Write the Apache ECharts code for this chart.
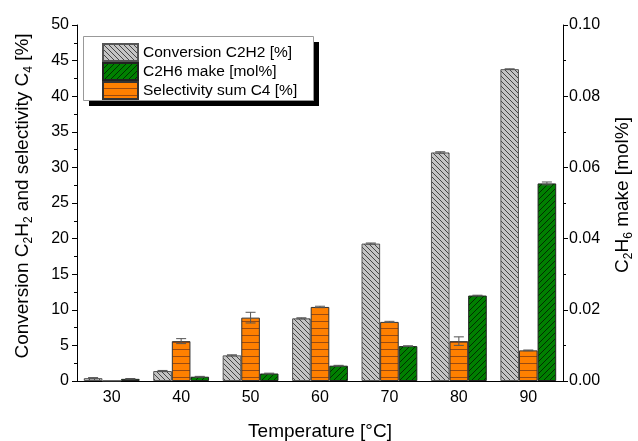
<!DOCTYPE html>
<html>
<head>
<meta charset="utf-8">
<script src="https://cdn.jsdelivr.net/npm/echarts@6/dist/echarts.min.js"></script>
<style>
  html, body { margin: 0; padding: 0; background: #fff; }
  #main { width: 638px; height: 441px; }
</style>
</head>
<body>
<div id="main"></div>
<script>
// data
var temps = ['30', '40', '50', '60', '70', '80', '90'];
var conversion = [0.4, 1.4, 3.6, 8.8, 19.3, 32.1, 43.8];
var conversionErr = [0.08, 0.08, 0.08, 0.08, 0.08, 0.1, 0.05];
var selectivity = [0, 5.6, 8.9, 10.4, 8.3, 5.6, 4.3];
var selectivityErr = [0, 0.35, 0.75, 0.1, 0.08, 0.6, 0.05];
var c2h6 = [0.0006, 0.0012, 0.0021, 0.0043, 0.0098, 0.024, 0.0555];
var c2h6Err = [0.0001, 0.0001, 0.0001, 0.0001, 0.0001, 0.0001, 0.0004];

var FONT = 'Liberation Sans, Arial, sans-serif';

// hatch patterns
function hatch(fill, line, size, kind) {
  var c = document.createElement('canvas');
  c.width = size; c.height = size;
  var ctx = c.getContext('2d');
  ctx.fillStyle = fill;
  ctx.fillRect(0, 0, size, size);
  ctx.strokeStyle = line;
  ctx.lineWidth = 1;
  ctx.beginPath();
  if (kind === 'back') {
    ctx.moveTo(-1, -1); ctx.lineTo(size + 1, size + 1);
    ctx.moveTo(-1, size - 1); ctx.lineTo(1, size + 1);
    ctx.moveTo(size - 1, -1); ctx.lineTo(size + 1, 1);
  } else if (kind === 'fwd') {
    ctx.moveTo(-1, size + 1); ctx.lineTo(size + 1, -1);
    ctx.moveTo(-1, 1); ctx.lineTo(1, -1);
    ctx.moveTo(size - 1, size + 1); ctx.lineTo(size + 1, size - 1);
  } else {
    ctx.moveTo(0, size - 0.5); ctx.lineTo(size, size - 0.5);
  }
  ctx.stroke();
  return { image: c, repeat: 'repeat' };
}

var greyFill = hatch('#c4c4c4', '#444', 5, 'back');
var greenFill = hatch('#008000', '#003000', 6, 'fwd');
var orangeFill = hatch('#ff8000', '#9a4a10', 7, 'horiz');

var barW = 0.268;

function errSeries(name, vals, errs, offset, yIdx) {
  var d = [];
  for (var i = 0; i < vals.length; i++) {
    if (vals[i] > 0) d.push([i, vals[i], errs[i]]);
  }
  return {
    type: 'custom',
    name: name,
    yAxisIndex: yIdx,
    data: d,
    z: 5,
    renderItem: function (params, api) {
      var idx = api.value(0), v = api.value(1), e = api.value(2);
      var band = api.size([1, 0])[0];
      var x = api.coord([idx, v])[0] + offset * band;
      var yHi = api.coord([idx, v + e])[1];
      var yLo = api.coord([idx, v - e])[1];
      var cap = 5;
      var st = { stroke: '#555', lineWidth: 1 };
      return {
        type: 'group',
        children: [
          { type: 'line', shape: { x1: x, y1: yHi, x2: x, y2: yLo }, style: st },
          { type: 'line', shape: { x1: x - cap, y1: yHi, x2: x + cap, y2: yHi }, style: st },
          { type: 'line', shape: { x1: x - cap, y1: yLo, x2: x + cap, y2: yLo }, style: st }
        ]
      };
    }
  };
}

var nameRich = { s: { fontFamily: FONT, fontSize: 12, lineHeight: 10, verticalAlign: 'bottom', color: '#000' } };

var chart = echarts.init(document.getElementById('main'), null, { renderer: 'canvas' });

chart.setOption({
  animation: false,
  textStyle: { fontFamily: FONT, color: '#000' },
  grid: { left: 77, right: 75, top: 25, bottom: 60, outerBoundsMode: 'none', containLabel: false },
  // legend frame with its hard black shadow
  graphic: [
    { type: 'rect', z: 90, shape: { x: 89, y: 42, width: 230, height: 64 }, style: { fill: '#000' } },
    { type: 'rect', z: 91, shape: { x: 83.5, y: 36.5, width: 230, height: 64 }, style: { fill: '#fff', stroke: '#999', lineWidth: 1 } }
  ],
  legend: {
    data: ['Conversion C2H2 [%]', 'C2H6 make [mol%]', 'Selectivity sum C4 [%]'],
    orient: 'vertical',
    left: 84,
    top: 40,
    z: 95,
    itemWidth: 35,
    itemHeight: 17,
    itemGap: 0,
    padding: [3, 10, 3, 18],
    icon: 'rect',
    textStyle: { fontFamily: FONT, fontSize: 15.5, color: '#000', lineHeight: 17 }
  },
  xAxis: [{
    type: 'category',
    data: temps,
    position: 'bottom',
    name: 'Temperature [°C]',
    nameLocation: 'middle',
    nameGap: 41,
    nameTextStyle: { fontFamily: FONT, fontSize: 19, color: '#000' },
    axisLine: { lineStyle: { color: '#000', width: 1 } },
    axisTick: { alignWithLabel: true, length: 5, lineStyle: { color: '#000' } },
    axisLabel: { fontFamily: FONT, fontSize: 16, color: '#000', margin: 9 },
    splitLine: { show: false }
  }, {
    type: 'category',
    data: temps,
    position: 'top',
    axisLine: { lineStyle: { color: '#000', width: 1 } },
    axisTick: { alignWithLabel: true, inside: true, length: 5, lineStyle: { color: '#000' } },
    axisLabel: { show: false },
    splitLine: { show: false }
  }],
  yAxis: [{
    type: 'value',
    min: 0, max: 50, interval: 5,
    name: 'Conversion C{s|2}H{s|2} and selectivity C{s|4} [%]',
    nameLocation: 'middle',
    nameRotate: 90,
    nameGap: 42,
    nameTextStyle: {
      fontFamily: FONT, fontSize: 19, color: '#000', lineHeight: 24,
      padding: [0, 0, 0, 14],
      rich: nameRich
    },
    axisLine: { show: true, lineStyle: { color: '#000', width: 1 } },
    axisTick: { show: true, length: 5, lineStyle: { color: '#000' } },
    minorTick: { show: true, splitNumber: 2, length: 3, lineStyle: { color: '#000' } },
    axisLabel: { fontFamily: FONT, fontSize: 16, color: '#000', margin: 8 },
    splitLine: { show: false }
  }, {
    type: 'value',
    min: 0, max: 0.1, interval: 0.02,
    position: 'right',
    name: 'C{s|2}H{s|6} make [mol%]',
    nameLocation: 'middle',
    nameRotate: 90,
    nameGap: 48,
    nameTextStyle: {
      fontFamily: FONT, fontSize: 19, color: '#000', lineHeight: 24,
      padding: [0, 0, 0, 16],
      rich: nameRich
    },
    axisLine: { show: true, lineStyle: { color: '#000', width: 1 } },
    axisTick: { show: true, length: 5, lineStyle: { color: '#000' } },
    minorTick: { show: true, splitNumber: 2, length: 3, lineStyle: { color: '#000' } },
    axisLabel: {
      fontFamily: FONT, fontSize: 16, color: '#000', margin: 6,
      formatter: function (v) { return v.toFixed(2); }
    },
    splitLine: { show: false }
  }],
  series: [{
    name: 'Conversion C2H2 [%]',
    type: 'bar',
    data: conversion,
    barWidth: (barW * 100) + '%',
    barGap: '0%',
    itemStyle: { color: greyFill, borderColor: '#555', borderWidth: 1 }
  }, {
    name: 'Selectivity sum C4 [%]',
    type: 'bar',
    data: selectivity,
    barWidth: (barW * 100) + '%',
    barGap: '0%',
    itemStyle: { color: orangeFill, borderColor: '#333', borderWidth: 1 }
  }, {
    name: 'C2H6 make [mol%]',
    type: 'bar',
    yAxisIndex: 1,
    data: c2h6,
    barWidth: (barW * 100) + '%',
    barGap: '0%',
    itemStyle: { color: greenFill, borderColor: '#222', borderWidth: 1 }
  },
  errSeries('errConv', conversion, conversionErr, -barW, 0),
  errSeries('errSel', selectivity, selectivityErr, 0, 0),
  errSeries('errC2H6', c2h6, c2h6Err, barW, 1)
  ]
});
</script>
</body>
</html>
